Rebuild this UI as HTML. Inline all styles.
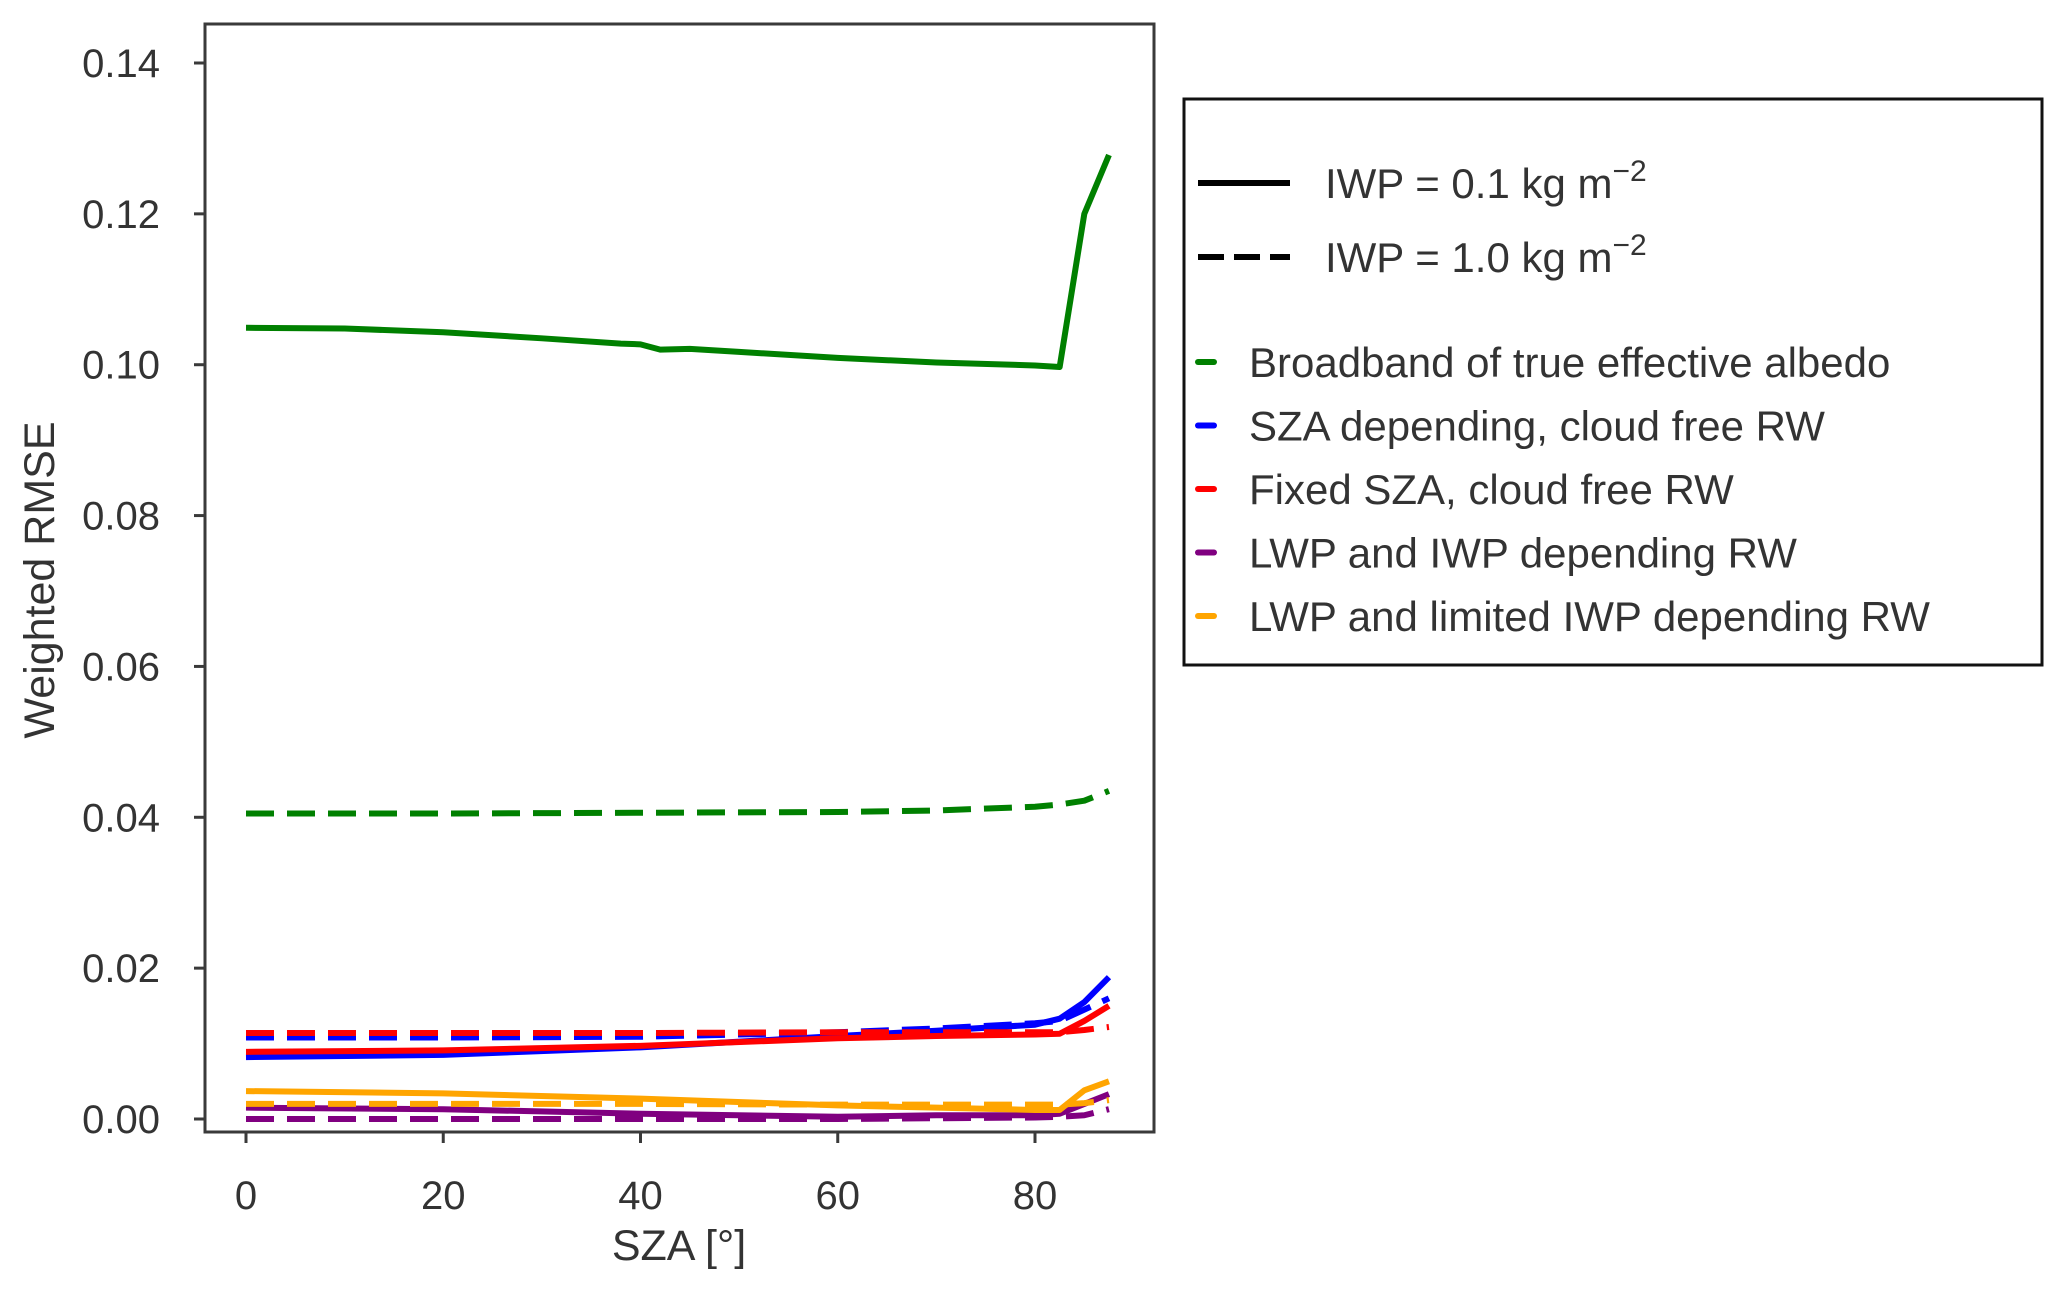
<!DOCTYPE html>
<html><head><meta charset="utf-8"><style>
html,body{margin:0;padding:0;background:#fff;}
svg{display:block;font-family:"Liberation Sans",Arial,sans-serif;}
</style></head><body>
<svg id="chart" width="2068" height="1295" viewBox="0 0 2068 1295">
<g id="series"></g>
<rect x="205" y="24" width="949" height="1108" fill="none" stroke="#3a3a3a" stroke-width="3"/>
<g id="axes"></g>
<text x="679" y="1260" font-size="43" fill="#333" text-anchor="middle">SZA [°]</text>
<text transform="translate(54,580) rotate(-90)" font-size="43" fill="#333" text-anchor="middle">Weighted RMSE</text>
<g>
<rect x="1184" y="99" width="858" height="566" fill="#fff" stroke="#111" stroke-width="3"/>
<line x1="1198" y1="183" x2="1290" y2="183" stroke="#000" stroke-width="6"/>
<text x="1325" y="198" font-size="42" fill="#333">IWP = 0.1 kg m<tspan dy="-17" font-size="30">−2</tspan></text>
<line x1="1198" y1="257" x2="1290" y2="257" stroke="#000" stroke-width="6" stroke-dasharray="26 10"/>
<text x="1325" y="272" font-size="42" fill="#333">IWP = 1.0 kg m<tspan dy="-17" font-size="30">−2</tspan></text>
<g id="legcolors"></g>
</g>
</svg>
<script>
const NS="http://www.w3.org/2000/svg";
const xTicks=[0,20,40,60,80];
const yTicks=[0.00,0.02,0.04,0.06,0.08,0.10,0.12,0.14];
const yTickLabels=["0.00","0.02","0.04","0.06","0.08","0.10","0.12","0.14"];
const seriesNames=["Broadband of true effective albedo","SZA depending, cloud free RW","Fixed SZA, cloud free RW","LWP and IWP depending RW","LWP and limited IWP depending RW"];
const seriesColors=["#008000","#0000ff","#ff0000","#800080","#ffa500"];
const szaGreen=[0,10,20,30,38,40,42,45,50,60,70,80,82.5,85,87.5];
const greenSolid=[0.1049,0.1048,0.1043,0.1035,0.1028,0.1027,0.1020,0.1021,0.1017,0.1009,0.1003,0.0999,0.0997,0.1200,0.1278];
const sza=[0,20,40,60,70,80,82.5,85,87.5];
const greenDashed=[0.0405,0.0405,0.0406,0.0407,0.0409,0.0414,0.0417,0.0422,0.0435];
const blueSolid=[0.0082,0.0085,0.0095,0.0110,0.0117,0.0125,0.0133,0.0155,0.0188];
const blueDashed=[0.0108,0.0108,0.0109,0.0115,0.0120,0.0127,0.0130,0.0145,0.0160];
const redSolid=[0.0089,0.0091,0.0097,0.0107,0.0110,0.0112,0.0113,0.0130,0.0150];
const redDashed=[0.0114,0.0114,0.0114,0.0115,0.0115,0.0115,0.0115,0.0118,0.0122];
const orangeSolid=[0.0037,0.0034,0.0027,0.0018,0.0015,0.0012,0.0012,0.0038,0.0050];
const orangeDashed=[0.0020,0.0020,0.0020,0.0019,0.0019,0.0019,0.0019,0.0021,0.0025];
const purpleSolid=[0.0015,0.0013,0.0007,0.0003,0.0005,0.0005,0.0007,0.0020,0.0033];
const purpleDashed=[0.0000,0.0000,0.0000,0.0000,0.0001,0.0002,0.0003,0.0005,0.0013];
function X(v){return 246+v*(1035-246)/80;}
function Y(v){return 1119-v*(1119-63)/0.14;}
const sg=document.getElementById('series');
function line(xs,ys,color,dashed,name){
  const p=document.createElementNS(NS,'polyline');
  p.setAttribute('points',xs.map((x,i)=>X(x)+','+Y(ys[i])).join(' '));
  p.setAttribute('fill','none');p.setAttribute('stroke',color);p.setAttribute('stroke-width','6');
  p.setAttribute('stroke-linejoin','round');
  if(dashed)p.setAttribute('stroke-dasharray','28 13');
  
  
  sg.appendChild(p);
}
line(sza,purpleDashed,seriesColors[3],true,'purple-dashed-line');
line(sza,purpleSolid,seriesColors[3],false,'purple-solid-line');
line(sza,orangeDashed,seriesColors[4],true,'orange-dashed-line');
line(sza,orangeSolid,seriesColors[4],false,'orange-solid-line');
line(sza,blueDashed,seriesColors[1],true,'blue-dashed-line');
line(sza,blueSolid,seriesColors[1],false,'blue-solid-line');
line(sza,redDashed,seriesColors[2],true,'red-dashed-line');
line(sza,redSolid,seriesColors[2],false,'red-solid-line');
line(sza,greenDashed,seriesColors[0],true,'green-dashed-line');
line(szaGreen,greenSolid,seriesColors[0],false,'green-solid-line');
const ax=document.getElementById('axes');
xTicks.forEach(t=>{
  const l=document.createElementNS(NS,'line');
  l.setAttribute('x1',X(t));l.setAttribute('x2',X(t));l.setAttribute('y1',1132);l.setAttribute('y2',1143);
  l.setAttribute('stroke','#3a3a3a');l.setAttribute('stroke-width','3');
  
  
  ax.appendChild(l);
  const tx=document.createElementNS(NS,'text');
  tx.setAttribute('x',X(t));tx.setAttribute('y',1209);tx.setAttribute('font-size','40');
  tx.setAttribute('fill','#333');tx.setAttribute('text-anchor','middle');tx.textContent=t;
  
  
  ax.appendChild(tx);
});
yTicks.forEach((t,i)=>{
  const l=document.createElementNS(NS,'line');
  l.setAttribute('x1',194);l.setAttribute('x2',205);l.setAttribute('y1',Y(t));l.setAttribute('y2',Y(t));
  l.setAttribute('stroke','#3a3a3a');l.setAttribute('stroke-width','3');
  
  
  ax.appendChild(l);
  const tx=document.createElementNS(NS,'text');
  tx.setAttribute('x',160);tx.setAttribute('y',Y(t)+14);tx.setAttribute('font-size','40');
  tx.setAttribute('fill','#333');tx.setAttribute('text-anchor','end');tx.textContent=yTickLabels[i];
  
  
  ax.appendChild(tx);
});
const lg=document.getElementById('legcolors');
seriesNames.forEach((n,i)=>{
  const y=362+i*63.5;
  const l=document.createElementNS(NS,'line');
  l.setAttribute('x1',1198);l.setAttribute('x2',1214);l.setAttribute('y1',y);l.setAttribute('y2',y);
  l.setAttribute('stroke',seriesColors[i]);l.setAttribute('stroke-width','6');l.setAttribute('stroke-linecap','round');
  
  
  lg.appendChild(l);
  const tx=document.createElementNS(NS,'text');
  tx.setAttribute('x',1249);tx.setAttribute('y',y+15);tx.setAttribute('font-size','42');
  tx.setAttribute('fill','#333');tx.textContent=n;
  
  
  lg.appendChild(tx);
});
</script>
</body></html>
